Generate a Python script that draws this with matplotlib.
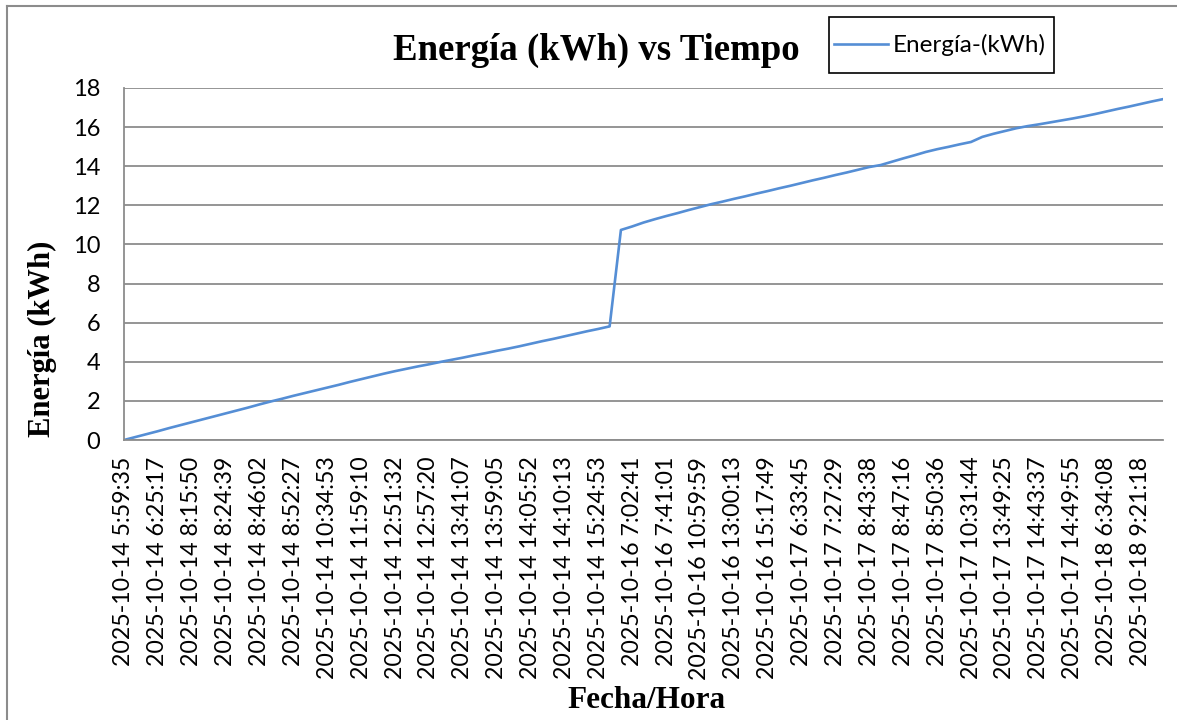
import numpy as np
import matplotlib
matplotlib.use("Agg")
import matplotlib.pyplot as plt
from matplotlib.lines import Line2D
from matplotlib.patches import Rectangle

# category labels shown on the x axis (every 3rd reading is labelled)
tick_labels = [
    "2025-10-14 5:59:35", "2025-10-14 6:25:17", "2025-10-14 8:15:50",
    "2025-10-14 8:24:39", "2025-10-14 8:46:02", "2025-10-14 8:52:27",
    "2025-10-14 10:34:53", "2025-10-14 11:59:10", "2025-10-14 12:51:32",
    "2025-10-14 12:57:20", "2025-10-14 13:41:07", "2025-10-14 13:59:05",
    "2025-10-14 14:05:52", "2025-10-14 14:10:13", "2025-10-14 15:24:53",
    "2025-10-16 7:02:41", "2025-10-16 7:41:01", "2025-10-16 10:59:59",
    "2025-10-16 13:00:13", "2025-10-16 15:17:49", "2025-10-17 6:33:45",
    "2025-10-17 7:27:29", "2025-10-17 8:43:38", "2025-10-17 8:47:16",
    "2025-10-17 8:50:36", "2025-10-17 10:31:44", "2025-10-17 13:49:25",
    "2025-10-17 14:43:37", "2025-10-17 14:49:55", "2025-10-18 6:34:08",
    "2025-10-18 9:21:18",
]
LABEL_EVERY = 3

# energy readings (kWh)
energy = [
    0.00, 0.15, 0.30, 0.45, 0.61, 0.76, 0.91, 1.06, 1.21, 1.36,
    1.51, 1.66, 1.82, 1.97, 2.11, 2.26, 2.40, 2.54, 2.68, 2.82,
    2.97, 3.11, 3.25, 3.39, 3.52, 3.64, 3.76, 3.87, 3.99, 4.10,
    4.21, 4.33, 4.44, 4.56, 4.67, 4.79, 4.92, 5.05, 5.17, 5.30,
    5.43, 5.56, 5.68, 5.81, 10.74, 10.92, 11.12, 11.29, 11.45, 11.60,
    11.76, 11.91, 12.06, 12.19, 12.33, 12.46, 12.60, 12.73, 12.87, 13.00,
    13.14, 13.28, 13.41, 13.55, 13.68, 13.82, 13.96, 14.06, 14.23, 14.40,
    14.56, 14.73, 14.87, 14.99, 15.12, 15.24, 15.50, 15.66, 15.80, 15.94,
    16.05, 16.14, 16.24, 16.34, 16.44, 16.55, 16.67, 16.80, 16.93, 17.05,
    17.18, 17.31, 17.43,
]

W, H = 1177, 720
fig = plt.figure(figsize=(W / 100, H / 100), dpi=100)
ax = fig.add_axes([124 / W, 1 - 440 / H, (1163 - 124) / W, (440 - 88) / H])

x = np.arange(len(energy))
line, = ax.plot(x, energy, color="#558ED5", lw=1.9)

grey = "#8c8c8c"
ax.set_xlim(0, len(energy) - 1)
ax.set_ylim(0, 18)
ax.set_yticks(np.arange(0, 19, 2))
ax.set_xticks(x[::LABEL_EVERY][:len(tick_labels)])
ax.set_xticklabels(tick_labels, rotation=90)
ax.grid(axis="y", color=grey, lw=1.3)
ax.set_axisbelow(True)
for side in ("top", "right"):
    ax.spines[side].set_visible(False)
for side in ("left", "bottom"):
    ax.spines[side].set_color(grey)
    ax.spines[side].set_linewidth(1.3)
ax.tick_params(length=0)
ax.tick_params(axis="x", pad=12, labelsize=16.7)
ax.tick_params(axis="y", pad=17, labelsize=17)
for t in ax.get_xticklabels() + ax.get_yticklabels():
    t.set_fontfamily("Lato")

serif = "Liberation Serif"
fig.text(596 / W, 1 - 50 / H, "Energía (kWh) vs Tiempo", ha="center",
         va="center", fontsize=26.5, fontweight="bold", family=serif)
fig.text(42 / W, 1 - 339 / H, "Energía (kWh)", ha="center", va="center",
         rotation=90, fontsize=22, fontweight="bold", family=serif)
fig.text(647 / W, 1 - 700 / H, "Fecha/Hora", ha="center", va="center",
         fontsize=22.5, fontweight="bold", family=serif)

# legend: entry without frame, box drawn to match the original size
fig.legend([line], ["Energía-(kWh)"], loc="center",
           bbox_to_anchor=(940 / W, 1 - 45 / H),
           prop={"family": "Lato", "size": 17.5},
           handlelength=2.2, handletextpad=0.2, frameon=False)
fig.add_artist(Rectangle((829 / W, 1 - 73 / H), 225 / W, 56 / H,
                         transform=fig.transFigure, fill=False,
                         edgecolor="black", lw=1.2))

# chart area border (left and top edges visible)
fig.add_artist(Line2D([7 / W, 7 / W], [0, 1 - 6 / H], color=grey, lw=1.5))
fig.add_artist(Line2D([7 / W, 1], [1 - 6 / H, 1 - 6 / H], color=grey, lw=1.5))

fig.savefig("out.png", dpi=100)
